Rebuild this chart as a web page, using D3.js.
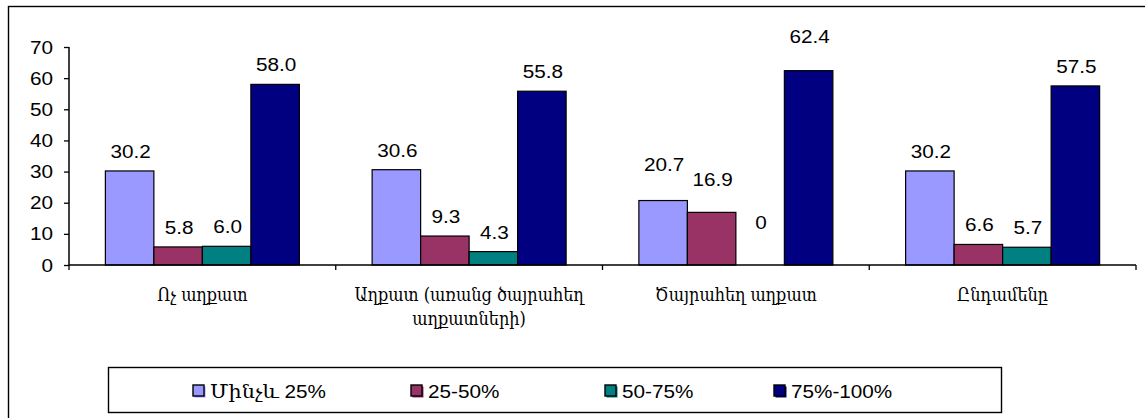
<!DOCTYPE html>
<html>
<head>
<meta charset="utf-8">
<script src="https://cdn.jsdelivr.net/npm/d3@7"></script>
<style>
  html, body { margin: 0; padding: 0; background: #fff; }
  svg { display: block; }
  text { font-family: "Liberation Sans", Arial, "DejaVu Serif", sans-serif; fill: #000; }
  .arm { font-family: "DejaVu Serif", serif; }
</style>
</head>
<body>
<svg width="1145" height="418"></svg>
<script>
// data
const categories = ["Ոչ աղքատ", "Աղքատ (առանց ծայրահեղ աղքատների)", "Ծայրահեղ աղքատ", "Ընդամենը"];
const seriesNames = ["Մինչև 25%", "25-50%", "50-75%", "75%-100%"];
const upTo25 = [30.2, 30.6, 20.7, 30.2];
const from25to50 = [5.8, 9.3, 16.9, 6.6];
const from50to75 = [6.0, 4.3, 0, 5.7];
const from75to100 = [58.0, 55.8, 62.4, 57.5];
const yTicks = [0, 10, 20, 30, 40, 50, 60, 70];

const seriesValues = [upTo25, from25to50, from50to75, from75to100];
const colors = ["#9999ff", "#993366", "#008080", "#000080"];

const svg = d3.select("svg");
const sx = 1.12;    // the original numbers are a bit stretched sideways
const fs = 18.5;
const armSx = 0.86; // armenian labels: taller glyphs, same width
const armFs = 18.8;

function put(g, x, y, str, anchor, cls) {
    const arm = cls === "arm";
    return g.append("text")
        .attr("class", cls || null)
        .attr("transform", `translate(${x},${y}) scale(${arm ? armSx : sx},1)`)
        .attr("text-anchor", anchor)
        .attr("font-size", arm ? armFs : fs)
        .text(str);
}

// outer frame, runs past the right and bottom edge
svg.append("rect")
    .attr("x", 8.5).attr("y", 6.5)
    .attr("width", 1160).attr("height", 430)
    .attr("fill", "none").attr("stroke", "#000").attr("stroke-width", 1.4);

const x0 = d3.scaleBand().domain(categories).range([69, 1136]).padding(0);
const x1 = d3.scaleBand().domain(d3.range(seriesNames.length))
    .range([0, x0.bandwidth()]).paddingInner(0).paddingOuter(0.75);
const y = d3.scaleLinear().domain([0, 70]).range([265, 47]);

// bars
const groups = svg.append("g").selectAll("g")
    .data(categories)
    .join("g")
    .attr("transform", d => `translate(${x0(d)},0)`);

groups.selectAll("rect")
    .data((c, ci) => seriesValues.map((vals, si) => ({ si, v: vals[ci] })))
    .join("rect")
    .filter(d => d.v > 0)
    .attr("x", d => x1(d.si))
    .attr("y", d => y(d.v))
    .attr("width", x1.bandwidth())
    .attr("height", d => y(0) - y(d.v))
    .attr("fill", d => colors[d.si])
    .attr("stroke", "#000")
    .attr("stroke-width", 1.2);

// value labels; the ones in the third group sit higher in the original
const labelLift = [[13, 13, 13, 13], [13, 13, 13, 13], [30, 26, 36, 28], [13, 13, 13, 13]];
categories.forEach((c, ci) => {
    seriesValues.forEach((vals, si) => {
        const v = vals[ci];
        put(svg, x0(c) + x1(si) + x1.bandwidth() / 2 + 1, y(v) - labelLift[ci][si],
            v === 0 ? "0" : v.toFixed(1), "middle");
    });
});

// axes
const yAxis = svg.append("g").attr("transform", "translate(69,0)")
    .call(d3.axisLeft(y).tickValues(yTicks).tickSize(5).tickFormat(d3.format("d")));
yAxis.select(".domain").attr("stroke", "#000").attr("stroke-width", 1.5).attr("d", "M0,47V265");
yAxis.selectAll(".tick line").attr("stroke", "#000").attr("stroke-width", 1.3);
yAxis.selectAll(".tick text").remove();
yTicks.forEach(t => put(svg, 53, y(t) + 6.5, t, "end"));

const xAxis = svg.append("g").attr("transform", "translate(0,265)");
xAxis.append("line").attr("x1", 69).attr("x2", 1136)
    .attr("stroke", "#000").attr("stroke-width", 1.5);
xAxis.selectAll("line.tk")
    .data(categories.map(c => x0(c)).concat([x0.range()[1]]))
    .join("line").attr("class", "tk")
    .attr("x1", d => d).attr("x2", d => d)
    .attr("y1", 0).attr("y2", 5)
    .attr("stroke", "#000").attr("stroke-width", 1.3);

// category labels, wrapped to the group width
const maxW = x0.bandwidth() - 4;
const measure = svg.append("text").attr("class", "arm").attr("font-size", armFs);
function wrap(str) {
    const words = str.split(" ");
    const lines = [];
    let cur = "";
    words.forEach(w => {
        const test = cur ? cur + " " + w : w;
        measure.text(test);
        if (measure.node().getComputedTextLength() * armSx > maxW && cur) {
            lines.push(cur);
            cur = w;
        } else cur = test;
    });
    lines.push(cur);
    return lines;
}
categories.forEach(c => {
    wrap(c).forEach((line, i) => {
        put(svg, x0(c) + x0.bandwidth() / 2, 301 + i * 24, line, "middle", "arm");
    });
});
measure.remove();

// legend
svg.append("rect")
    .attr("x", 108.5).attr("y", 367.5)
    .attr("width", 893).attr("height", 45)
    .attr("fill", "#fff").attr("stroke", "#000").attr("stroke-width", 1.4);
const legendX = [193, 411, 605, 774];
seriesNames.forEach((name, i) => {
    const lx = legendX[i];
    svg.append("rect").attr("x", lx + 1.5).attr("y", 386.5)
        .attr("width", 11).attr("height", 11).attr("fill", colors[i]);
    svg.append("rect").attr("x", lx).attr("y", 385)
        .attr("width", 11).attr("height", 11)
        .attr("fill", colors[i]).attr("stroke", "#000").attr("stroke-width", 1.4);
    put(svg, lx + 17, 398, name, "start");
});
</script>
</body>
</html>
